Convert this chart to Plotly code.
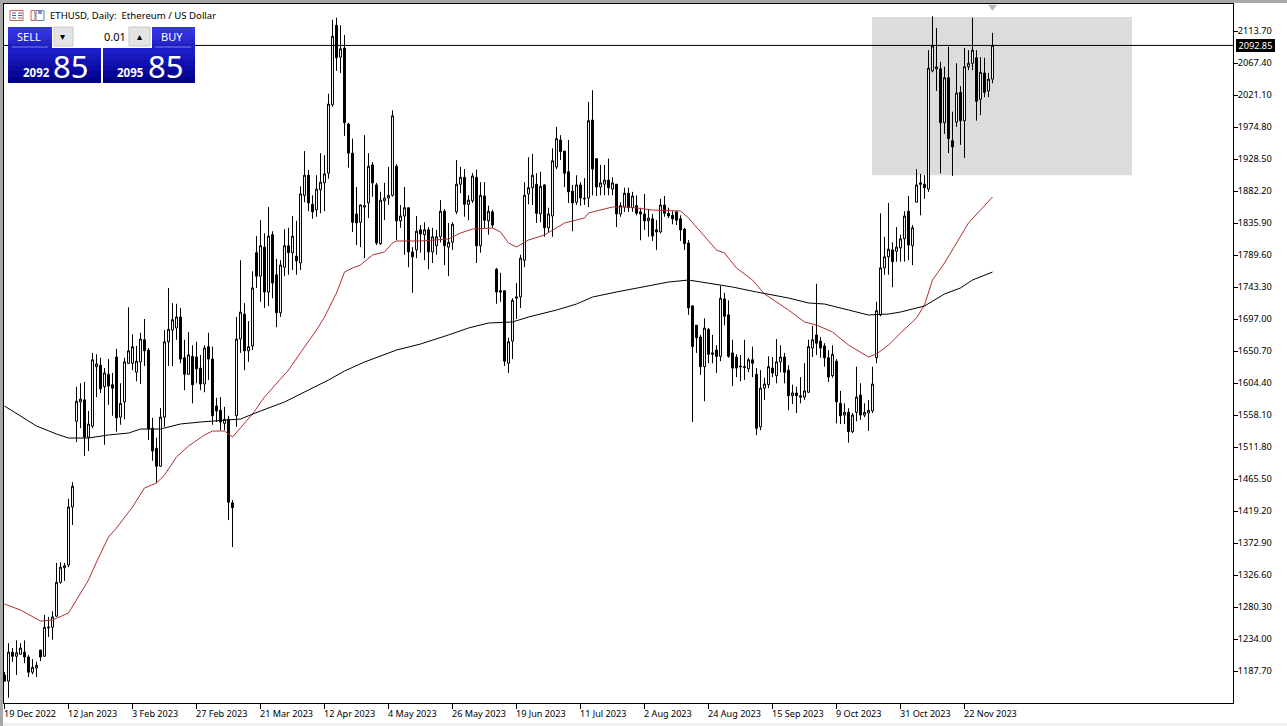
import plotly.graph_objects as go

open_ = [
1182,1173,1215,1209,1212,1215,1208,1186,1192,1218,
1209,1250,1251,1267,1316,1337,1341,1425,1549,1577,
1580,1526,1542,1628,1630,1599,1617,1602,1642,1555,
1577,1633,1633,1620,1635,1667,1652,1539,1510,1484,
1555,1664,1681,1684,1700,1641,1617,1643,1642,1626,
1603,1657,1639,1571,1565,1546,1552,1431,1557,1668,
1704,1651,1658,1793,1759,1801,1736,1819,1761,1706,
1772,1803,1793,1788,1778,1876,1905,1863,1855,1884,
1894,1908,2007,2122,2076,2089,1979,1937,1849,1837,
1859,1865,1920,1891,1806,1868,1872,1876,1918,1839,
1846,1858,1794,1797,1826,1819,1826,1794,1803,1816,
1853,1801,1808,1852,1892,1902,1863,1868,1902,1803,
1875,1839,1852,1769,1738,1738,1633,1665,1727,1729,
1782,1878,1887,1892,1849,1891,1829,1846,1917,1956,
1940,1910,1882,1866,1891,1872,1872,1985,1929,1888,
1892,1898,1885,1892,1849,1859,1879,1858,1861,1852,
1849,1839,1842,1826,1823,1862,1850,1847,1852,1842,
1827,1807,1716,1688,1671,1628,1682,1648,1652,1643,
1726,1703,1648,1642,1629,1628,1625,1638,1617,1541,
1597,1602,1626,1615,1635,1642,1623,1586,1590,1586,
1584,1591,1655,1674,1665,1658,1641,1615,1636,1575,
1558,1562,1534,1562,1587,1558,1561,1564,1641,1703,
1771,1787,1797,1795,1800,1813,1853,1803,1866,1894,
1892,1885,2056,2059,2059,1981,2046,1955,1982,2025,
1984,2062,2067,2075,2015,2053,2027,2044]

high = [
1186,1228,1221,1232,1228,1232,1211,1205,1201,1218,
1269,1266,1274,1344,1345,1344,1437,1461,1599,1604,
1606,1564,1648,1646,1641,1626,1639,1619,1654,1604,
1641,1714,1675,1658,1677,1697,1655,1554,1525,1568,
1681,1742,1720,1719,1713,1667,1678,1659,1664,1645,
1659,1677,1657,1583,1584,1570,1557,1435,1700,1782,
1720,1694,1766,1817,1840,1821,1859,1824,1784,1782,
1827,1829,1846,1839,1889,1940,1913,1876,1905,1937,
1934,2023,2130,2133,2122,2108,1981,1958,1888,1863,
1963,1937,1924,1894,1881,1894,1917,1999,1921,1862,
1888,1858,1801,1846,1833,1837,1830,1829,1826,1869,
1856,1836,1837,1927,1917,1914,1876,1908,1913,1895,
1895,1861,1855,1771,1764,1738,1670,1727,1749,1790,
1895,1931,1936,1908,1910,1892,1858,1944,1975,1963,
1940,1956,1891,1905,1895,1901,2011,2028,1929,1920,
1920,1929,1902,1892,1866,1887,1887,1881,1876,1858,
1878,1856,1849,1840,1871,1875,1858,1853,1853,1847,
1829,1811,1717,1688,1674,1698,1684,1674,1659,1745,
1735,1724,1667,1646,1645,1667,1641,1657,1626,1623,
1612,1643,1642,1668,1659,1648,1630,1602,1599,1613,
1633,1667,1687,1748,1671,1662,1652,1659,1639,1593,
1575,1568,1561,1628,1604,1575,1580,1628,1722,1850,
1816,1865,1808,1830,1819,1853,1875,1833,1914,1907,
1905,2086,2135,2118,2069,2062,2091,1997,2067,2034,
2089,2086,2133,2086,2076,2075,2053,2111]

low = [
1173,1149,1201,1182,1211,1199,1179,1183,1179,1202,
1208,1237,1233,1266,1314,1318,1338,1399,1519,1539,
1499,1506,1539,1584,1590,1515,1573,1557,1534,1544,
1552,1632,1623,1607,1603,1629,1522,1492,1460,1483,
1541,1629,1629,1667,1633,1594,1616,1575,1604,1594,
1591,1609,1544,1548,1536,1536,1406,1367,1541,1648,
1623,1635,1652,1742,1722,1713,1716,1727,1685,1700,
1759,1761,1768,1761,1768,1866,1853,1842,1845,1850,
1853,1900,2004,2056,2053,1962,1916,1823,1804,1801,
1785,1843,1874,1804,1804,1840,1862,1874,1811,1829,
1790,1772,1735,1785,1793,1782,1769,1778,1790,1808,
1775,1759,1797,1849,1879,1845,1840,1865,1778,1793,
1829,1819,1829,1719,1722,1629,1619,1639,1697,1713,
1772,1863,1862,1836,1837,1816,1823,1816,1914,1927,
1888,1865,1824,1862,1861,1862,1859,1876,1875,1876,
1876,1876,1876,1830,1845,1852,1852,1852,1847,1811,
1826,1816,1810,1797,1821,1845,1843,1834,1833,1810,
1797,1703,1548,1648,1616,1578,1633,1633,1619,1636,
1688,1641,1600,1613,1607,1609,1620,1613,1529,1536,
1580,1597,1613,1604,1620,1604,1565,1574,1561,1575,
1580,1590,1642,1645,1641,1628,1606,1612,1546,1545,
1545,1518,1532,1549,1551,1555,1535,1561,1633,1701,
1761,1761,1743,1780,1780,1780,1782,1775,1866,1847,
1871,1881,2054,2027,1908,1965,1937,1904,1975,1949,
1930,2057,2057,1984,1992,2018,2018,2038]

close = [
1173,1215,1209,1214,1221,1208,1186,1193,1196,1208,
1251,1251,1266,1316,1338,1340,1425,1455,1578,1581,
1526,1545,1638,1632,1596,1619,1600,1597,1554,1575,
1635,1651,1657,1636,1668,1651,1538,1506,1484,1555,
1664,1682,1696,1700,1639,1617,1645,1602,1625,1603,
1655,1639,1557,1564,1548,1552,1432,1424,1668,1707,
1651,1657,1742,1759,1803,1736,1817,1749,1706,1775,
1803,1793,1817,1781,1878,1905,1865,1852,1885,1895,
1907,2008,2106,2075,2088,1981,1937,1837,1836,1862,
1861,1918,1894,1807,1869,1872,1876,1991,1839,1846,
1858,1794,1787,1824,1820,1826,1794,1816,1816,1853,
1803,1808,1834,1892,1902,1863,1869,1904,1803,1876,
1840,1853,1833,1736,1736,1636,1664,1724,1729,1785,
1876,1887,1905,1850,1889,1829,1849,1926,1958,1939,
1908,1881,1865,1891,1872,1871,1984,1914,1888,1894,
1898,1887,1894,1849,1861,1879,1858,1875,1850,1849,
1839,1843,1817,1823,1862,1850,1846,1842,1840,1826,
1806,1713,1657,1670,1628,1684,1646,1646,1643,1727,
1701,1643,1626,1626,1628,1627,1638,1633,1539,1597,
1603,1628,1619,1635,1642,1620,1586,1590,1586,1584,
1593,1657,1667,1662,1655,1641,1613,1646,1577,1557,
1562,1534,1558,1584,1558,1562,1565,1603,1709,1771,
1787,1798,1780,1801,1813,1846,1804,1829,1891,1892,
1887,2060,2092,2062,1981,2046,1958,1946,2024,1984,
2062,2067,2086,2012,2054,2025,2044,2092.85]

ma_slow_idx = [0,4,8,13,16,21,26,31,34,39,44,49,56,59,64,70,76,81,85,90,98,104,111,116,121,127,131,138,143,147,153,158,166,171,177,182,188,196,201,205,211,216,221,224,230,235,239,242,247]
ma_slow = [1571.1,1556.6,1542.2,1530.6,1524.8,1524.8,1529.2,1532,1537.8,1537.8,1545.1,1548,1550.9,1552.3,1563.9,1576.9,1594.3,1608.7,1621.8,1634.8,1652.1,1660.8,1673.9,1684,1691.2,1692.7,1699.9,1710,1718.7,1728.8,1736.1,1741.9,1750.5,1753.4,1747.7,1743.3,1736.1,1727.4,1720.2,1718.7,1710,1702.8,1704.2,1707.1,1715.8,1733.2,1741.9,1753.4,1765]

ma_fast_idx = [0,4,9,12,16,18,21,23,26,28,32,35,38,40,43,46,50,52,55,57,59,62,65,68,71,75,78,80,83,85,87,89,91,92,95,97,98,104,111,114,117,122,124,126,128,131,135,137,140,145,146,152,156,162,169,171,174,178,180,183,187,190,196,200,203,207,211,216,218,221,224,228,230,232,235,237,241,247]
ma_fast = [1284.6,1275.9,1260,1261.5,1271.6,1290.4,1319.3,1345.4,1381.6,1394.6,1425,1452.5,1459.7,1471.3,1497.3,1513.2,1529.2,1534.9,1534.9,1526.3,1539.3,1559.5,1584.1,1604.4,1623.2,1656.5,1681.1,1699.9,1734.6,1765,1770.8,1775.1,1785.3,1789.6,1794,1807,1809.9,1809.9,1812.8,1821.4,1827.2,1828.7,1822.9,1807,1801.2,1811.3,1818.6,1825.8,1835.9,1843.2,1850.4,1859.1,1859.1,1854.7,1853.3,1843.2,1822.9,1796.8,1792.5,1770.8,1753.4,1733.2,1710,1692.7,1688.3,1678.2,1659.4,1642,1646.4,1659.4,1676.7,1698.5,1717.3,1753.4,1778,1796.8,1835.9,1873.5]

date_idx = [0,16,32,48,64,80,96,112,128,144,160,176,192,208,224,240]
date_labels = ["19 Dec 2022","12 Jan 2023","3 Feb 2023","27 Feb 2023","21 Mar 2023","12 Apr 2023","4 May 2023","26 May 2023","19 Jun 2023","11 Jul 2023","2 Aug 2023","24 Aug 2023","15 Sep 2023","9 Oct 2023","31 Oct 2023","22 Nov 2023"]
price_ticks = [2113.70,2067.40,2021.10,1974.80,1928.50,1882.20,1835.90,1789.60,1743.30,1697.00,1650.70,1604.40,1558.10,1511.80,1465.50,1419.20,1372.90,1326.60,1280.30,1234.00,1187.70]
price_labels = ["%.2f" % v for v in price_ticks]
bid = 2092.85
zone_x = [216.9, 281.9]
zone_y = [1905, 2134]
title = "ETHUSD, Daily:  Ethereum / US Dollar"

W, H = 1287, 726
L, R, T, B = 4, 1233, 4, 703
FONT = "Noto Sans"
fx = lambda p: (p - L) / (R - L)
fy = lambda p: (B - p) / (B - T)

fig = go.Figure()
fig.add_trace(go.Candlestick(
    x=list(range(len(open_))), open=open_, high=high, low=low, close=close,
    whiskerwidth=0,
    increasing=dict(line=dict(color="#000000", width=1), fillcolor="#ffffff"),
    decreasing=dict(line=dict(color="#000000", width=1), fillcolor="#000000"),
    hoverinfo="skip", showlegend=False))
fig.add_trace(go.Scatter(x=ma_fast_idx, y=ma_fast, mode="lines", line=dict(color="#b03030", width=1), hoverinfo="skip", showlegend=False))
fig.add_trace(go.Scatter(x=ma_slow_idx, y=ma_slow, mode="lines", line=dict(color="#000000", width=1), hoverinfo="skip", showlegend=False))
fig.add_trace(go.Scatter(x=[len(open_) - 1], y=[2149], mode="markers", marker=dict(symbol="triangle-down", size=8, color="#b8b8b8"), hoverinfo="skip", showlegend=False))

shapes = [
    dict(type="rect", xref="x", yref="y", x0=zone_x[0], x1=zone_x[1], y0=zone_y[0], y1=zone_y[1],
         fillcolor="#dcdcdc", line=dict(width=0), layer="below"),
    dict(type="line", xref="paper", yref="y", x0=0, x1=1, y0=bid, y1=bid, line=dict(color="#000000", width=1), layer="above"),
]

def rect(x0, y0, x1, y1, fill, line=None):
    shapes.append(dict(type="rect", xref="paper", yref="paper", x0=fx(x0), x1=fx(x1), y0=fy(y0), y1=fy(y1),
                       fillcolor=fill, line=dict(width=1 if line else 0, color=line or fill), layer="above"))

def seg(x0, y0, x1, y1, color):
    shapes.append(dict(type="line", xref="paper", yref="paper", x0=fx(x0), x1=fx(x1), y0=fy(y0), y1=fy(y1),
                       line=dict(width=1, color=color), layer="above"))

# window chrome
rect(0, 0, W, 3, "#a8a8a8")
rect(0, 0, 3, H, "#a8a8a8")
rect(3, 723, W, H, "#f0f0f0")

# title icons
rect(10, 10.5, 23, 20.5, "#ffffff", "#c8604c")
for yy in (13, 15.5, 18):
    seg(12, yy, 16, yy, "#4060c0"); seg(18, yy, 22, yy, "#4060c0")
rect(31, 10.5, 35, 20.5, "#ffffff", "#c8604c")
rect(36, 10.5, 44, 20.5, "#ffffff", "#6080b0")
rect(38, 10.5, 42, 14, "#8090c0")

# one-click panel
bands = ["#3434e8", "#3030e0", "#2c2cd8", "#2626cc", "#2020c0"]
def grad(x0, y0, x1, y1, cols):
    n = len(cols)
    for k, c in enumerate(cols):
        rect(x0, y0 + (y1 - y0) * k / n, x1, min(y1, y0 + (y1 - y0) * (k + 1) / n + 1), c)

rect(52, 26, 152, 48, "#ffffff")
grad(8, 27, 52, 48, bands)
grad(152, 27, 195, 48, bands)
panel = ["#1c1cc8", "#1818bc", "#1212b0", "#0c0ca4", "#060698", "#00008c"]
grad(8, 48, 101, 83, panel)
grad(103, 48, 195, 83, panel)
seg(12, 47, 48, 47, "#7c7cf0")
seg(155, 47, 191, 47, "#7c7cf0")
rect(54, 27, 73, 46, "#e4e4e4", "#c8c8c8")
rect(129, 27, 150, 46, "#e4e4e4", "#c8c8c8")

def txt(x, y, s, size, color="#000000", anchor="left", bold=False, family=FONT):
    return dict(xref="paper", yref="paper", x=fx(x), y=fy(y), text=("<b>%s</b>" % s) if bold else s, showarrow=False,
                xanchor=anchor, yanchor="middle", font=dict(family=family, size=size, color=color), borderpad=0, borderwidth=0)

anns = [
    txt(50, 15.5, title, 9.6),
    txt(29, 37, "SELL", 11, "#ffffff", "center"),
    txt(172, 37, "BUY", 11, "#ffffff", "center"),
    txt(63, 36.5, "▾", 10, "#000000", "center", family="DejaVu Sans"),
    txt(139, 36.5, "▴", 10, "#000000", "center", family="DejaVu Sans"),
    txt(126, 36.5, "0.01", 11, "#000000", "right"),
    txt(50, 72, "2092", 11.5, "#ffffff", "right", True),
    txt(88, 66, "85", 31, "#ffffff", "right"),
    txt(144, 72, "2095", 11.5, "#ffffff", "right", True),
    txt(183, 66, "85", 31, "#ffffff", "right"),
]
for i, lab in zip(date_idx, date_labels):
    anns.append(dict(xref="x", yref="paper", x=i, xshift=-1, y=fy(713), text=lab, showarrow=False, xanchor="left", yanchor="middle",
                     font=dict(family=FONT, size=9.1, color="#000000"), borderpad=0, borderwidth=0))
anns.append(dict(xref="paper", yref="y", x=fx(1236), y=bid, text=" %.2f " % bid, showarrow=False, xanchor="left", yanchor="middle",
                 bgcolor="#000000", font=dict(family=FONT, size=9.2, color="#ffffff"), borderpad=0, borderwidth=0))

fig.update_layout(
    width=W, height=H, autosize=False,
    margin=dict(l=L, r=W - R, t=T, b=H - B, pad=0),
    paper_bgcolor="#ffffff", plot_bgcolor="#ffffff",
    showlegend=False, boxgap=0.3, hovermode=False,
    shapes=shapes, annotations=anns,
    xaxis=dict(range=[-0.125, 307.125], showgrid=False, zeroline=False, rangeslider=dict(visible=False),
               tickmode="array", tickvals=date_idx, ticktext=date_labels, showticklabels=False,
               ticks="outside", ticklen=5, tickcolor="#000000", tickwidth=1,
               showline=True, linecolor="#000000", linewidth=1, mirror=True),
    yaxis=dict(range=[1141.4, 2152.8], side="right", showgrid=False, zeroline=False,
               tickmode="array", tickvals=price_ticks, ticktext=price_labels,
               ticks="outside", ticklen=4, tickcolor="#000000", tickwidth=1, ticklabelstandoff=-2,
               tickfont=dict(family=FONT, size=9.2, color="#000000"),
               showline=True, linecolor="#000000", linewidth=1, mirror=True),
)
fig.write_html("out.html", config=dict(displayModeBar=False),
               post_script="document.body.style.margin='0';document.documentElement.style.overflow='hidden';")
